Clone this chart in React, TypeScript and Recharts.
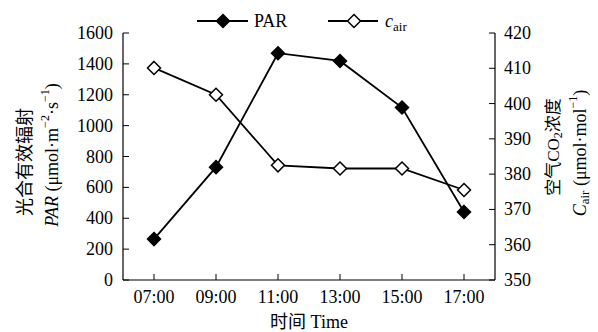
import React from 'react';
import { LineChart, Line, XAxis, YAxis, Legend, Label } from 'recharts';

// Hourly observations
const times = ['07:00', '09:00', '11:00', '13:00', '15:00', '17:00'];
const parValues = [265, 731, 1469, 1419, 1117, 441];
const cairValues = [410.1, 402.5, 382.5, 381.6, 381.6, 375.5];

const parTicks = [0, 200, 400, 600, 800, 1000, 1200, 1400, 1600];
const cairTicks = [350, 360, 370, 380, 390, 400, 410, 420];

const data = times.map((time, i) => ({ time, par: parValues[i], cair: cairValues[i] }));

const SERIF = '"Liberation Serif", "Times New Roman", "Noto Sans CJK SC", serif';
const FS = 18;
const TICK_LEN = 6;

const Diamond = ({ cx, cy, filled, r = 6.5 }: { cx: number; cy: number; filled: boolean; r?: number }) => (
  <polygon
    points={`${cx},${cy - r} ${cx + r},${cy} ${cx},${cy + r} ${cx - r},${cy}`}
    fill={filled ? '#000' : '#fff'}
    stroke="#000"
    strokeWidth={1.5}
  />
);

const LeftTick = (props: any) => {
  const { x, y, payload } = props;
  return (
    <g>
      <line x1={x} x2={x + TICK_LEN} y1={y} y2={y} stroke="#000" strokeWidth={1} />
      <text x={x - 10} y={y + 6} textAnchor="end" fontFamily={SERIF} fontSize={FS} fill="#000">
        {payload.value}
      </text>
    </g>
  );
};

const RightTick = (props: any) => {
  const { x, y, payload } = props;
  return (
    <g>
      <line x1={x} x2={x - TICK_LEN} y1={y} y2={y} stroke="#000" strokeWidth={1} />
      <text x={x + 9} y={y + 6} textAnchor="start" fontFamily={SERIF} fontSize={FS} fill="#000">
        {payload.value}
      </text>
    </g>
  );
};

const BottomTick = (props: any) => {
  const { x, y, payload } = props;
  return (
    <g>
      <line x1={x} x2={x} y1={y} y2={y - TICK_LEN} stroke="#000" strokeWidth={1} />
      <text x={x} y={y + 23} textAnchor="middle" fontFamily={SERIF} fontSize={FS} fill="#000">
        {payload.value}
      </text>
    </g>
  );
};

const LegendContent = () => (
  <svg width={598} height={33} style={{ display: 'block' }}>
    <line x1={197} x2={248} y1={21} y2={21} stroke="#000" strokeWidth={1.8} />
    <Diamond cx={223} cy={21} filled />
    <text x={254} y={27} fontFamily={SERIF} fontSize={FS} fill="#000">PAR</text>
    <line x1={328} x2={378} y1={21} y2={21} stroke="#000" strokeWidth={1.8} />
    <Diamond cx={354} cy={21} filled={false} />
    <text x={385} y={27} fontFamily={SERIF} fontSize={FS} fill="#000">
      <tspan fontStyle="italic">c</tspan>
      <tspan fontSize={13} dy={4}>air</tspan>
    </text>
  </svg>
);

const LeftAxisTitle = () => (
  <g fontFamily={SERIF} fill="#000">
    <text
      x={25}
      y={162}
      transform="rotate(-90, 25, 162)"
      textAnchor="middle"
      dominantBaseline="central"
      fontSize={18}
    >
      光合有效辐射
    </text>
    <text
      x={52}
      y={155}
      transform="rotate(-90, 52, 155)"
      textAnchor="middle"
      dominantBaseline="central"
      fontSize={FS}
    >
      <tspan fontStyle="italic">PAR</tspan>
      <tspan> (μmol·m</tspan>
      <tspan fontSize={12} dy={-7}>−2</tspan>
      <tspan dy={7}>·s</tspan>
      <tspan fontSize={12} dy={-7}>−1</tspan>
      <tspan dy={7}>)</tspan>
    </text>
  </g>
);

const RightAxisTitle = () => (
  <g fontFamily={SERIF} fill="#000">
    <text
      x={553}
      y={147}
      transform="rotate(-90, 553, 147)"
      textAnchor="middle"
      dominantBaseline="central"
      fontSize={17}
    >
      <tspan>空气CO</tspan>
      <tspan fontSize={12} dy={5}>2</tspan>
      <tspan dy={-5}>浓度</tspan>
    </text>
    <text
      x={580}
      y={153}
      transform="rotate(-90, 580, 153)"
      textAnchor="middle"
      dominantBaseline="central"
      fontSize={FS}
    >
      <tspan fontStyle="italic">C</tspan>
      <tspan fontSize={13} dy={4}>air</tspan>
      <tspan dy={-4}> (μmol·mol</tspan>
      <tspan fontSize={12} dy={-7}>−1</tspan>
      <tspan dy={7}>)</tspan>
    </text>
  </g>
);

const BottomAxisTitle = () => (
  <text x={309} y={328} textAnchor="middle" fontFamily={SERIF} fontSize={FS} fill="#000">
    时间 Time
  </text>
);

export default function App() {
  return (
    <div style={{ position: 'absolute', left: 0, top: 0, width: 598, height: 332, background: '#fff' }}>
      <LineChart width={598} height={332} data={data} margin={{ top: 0, right: 0, bottom: 0, left: 0 }}>
        <Legend
          verticalAlign="top"
          align="left"
          content={LegendContent}
          wrapperStyle={{ height: 33, width: 598 }}
        />
        <XAxis
          dataKey="time"
          height={52}
          padding={{ left: 31, right: 31 }}
          tickSize={0}
          tickMargin={0}
          tick={BottomTick}
          interval={0}
          axisLine={{ stroke: '#000', strokeWidth: 1.2 }}
        >
          <Label content={BottomAxisTitle} />
        </XAxis>
        <YAxis
          yAxisId="par"
          orientation="left"
          width={123}
          domain={[0, 1600]}
          ticks={parTicks}
          interval={0}
          tickSize={0}
          tickMargin={0}
          tick={LeftTick}
          axisLine={{ stroke: '#000', strokeWidth: 1.2 }}
        >
          <Label content={LeftAxisTitle} />
        </YAxis>
        <YAxis
          yAxisId="cair"
          orientation="right"
          width={103}
          domain={[350, 420]}
          ticks={cairTicks}
          interval={0}
          tickSize={0}
          tickMargin={0}
          tick={RightTick}
          axisLine={{ stroke: '#000', strokeWidth: 1.2 }}
        >
          <Label content={RightAxisTitle} />
        </YAxis>
        <Line
          yAxisId="cair"
          dataKey="cair"
          stroke="#000"
          strokeWidth={1.8}
          isAnimationActive={false}
          dot={(p: any) => <Diamond key={`c-${p.index}`} cx={p.cx} cy={p.cy} filled={false} />}
          activeDot={false}
        />
        <Line
          yAxisId="par"
          dataKey="par"
          stroke="#000"
          strokeWidth={1.8}
          isAnimationActive={false}
          dot={(p: any) => <Diamond key={`p-${p.index}`} cx={p.cx} cy={p.cy} filled />}
          activeDot={false}
        />
      </LineChart>
    </div>
  );
}
